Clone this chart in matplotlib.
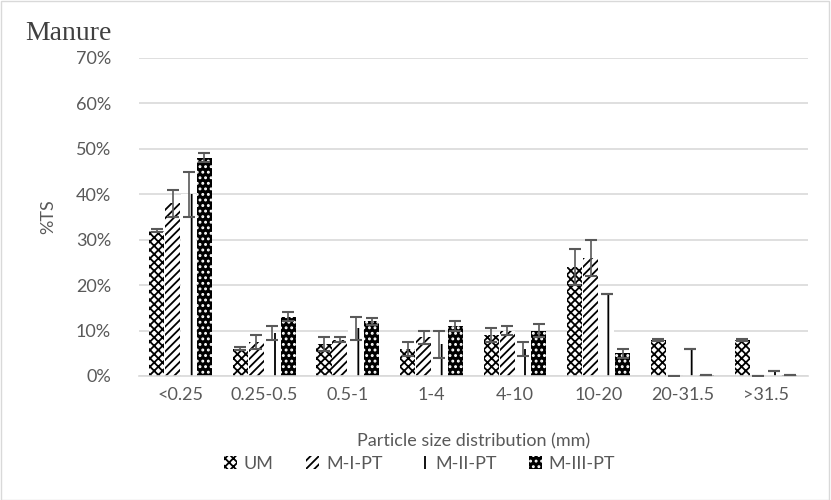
import matplotlib.pyplot as plt
import numpy as np

categories = ['<0.25', '0.25-0.5', '0.5-1', '1-4', '4-10', '10-20', '20-31.5', '>31.5']
series = ['UM', 'M-I-PT', 'M-II-PT', 'M-III-PT']

um = [32, 6, 7, 6, 9, 24, 8, 8]
um_err = [0.3, 0.3, 1.5, 1.5, 1.5, 4, 0.2, 0.2]
m1 = [38, 7.5, 8, 8.5, 10, 26, 0, 0]
m1_err = [3, 1.5, 0.5, 1.5, 1, 4, 0, 0]
m2 = [40, 9.5, 10.5, 7, 6, 18, 6, 1]
m2_err = [5, 1.5, 2.5, 3, 1.5, 0, 0, 0]
m3 = [48, 13, 12, 11, 10, 5, 0.3, 0.2]
m3_err = [1, 1, 0.7, 1, 1.5, 1, 0, 0]

values = [um, m1, m2, m3]
errors = [um_err, m1_err, m2_err, m3_err]
styles = [
    dict(facecolor='white', edgecolor='black', hatch='xxxx', linewidth=0),
    dict(facecolor='white', edgecolor='black', hatch='////', linewidth=0),
    dict(facecolor='white', edgecolor='black', hatch='|', linewidth=0),
    dict(facecolor='black', edgecolor='white', hatch='...', linewidth=0),
]

plt.rcParams['font.family'] = ['Lato', 'DejaVu Sans']
plt.rcParams['hatch.linewidth'] = 1.3

fig = plt.figure(figsize=(8.31, 5), dpi=100)
ax = fig.add_axes([0.167, 0.248, 0.805, 0.636])

x = np.arange(len(categories))
w = 0.18
for i, (name, vals, errs, st) in enumerate(zip(series, values, errors, styles)):
    pos = x + (i - 1.5) * (w + 0.01)
    ax.bar(pos, vals, w, label=name, zorder=2, **st)
    ax.errorbar(pos, vals, yerr=errs, fmt='none', ecolor='#595959',
                elinewidth=1.2, capsize=4, capthick=1.5, zorder=3)

ax.set_xlim(-0.5, len(categories) - 0.5)
ax.set_ylim(0, 70)
ax.set_yticks(np.arange(0, 71, 10))
ax.set_yticklabels([f'{v}%' for v in range(0, 71, 10)])
ax.set_xticks(x)
ax.set_xticklabels(categories)
ax.yaxis.grid(True, color='#d9d9d9', linewidth=1.2, zorder=0)
ax.set_axisbelow(True)
for s in ['top', 'right', 'left']:
    ax.spines[s].set_visible(False)
ax.spines['bottom'].set_color('#d9d9d9')
ax.spines['bottom'].set_linewidth(1.2)
ax.tick_params(length=0, labelsize=13, colors='#595959', pad=8)
ax.tick_params(axis='y', pad=20)

ax.set_xlabel('Particle size distribution (mm)', fontsize=13, color='#595959', labelpad=22)
ax.set_ylabel('%TS', fontsize=13, color='#595959', labelpad=14)

fig.text(0.03, 0.92, 'Manure', fontsize=20, family='Liberation Serif', color='#404040',
         va='baseline')

leg = fig.legend(loc='center', bbox_to_anchor=(0.505, 0.072), ncol=4, frameon=False,
                 fontsize=13, handlelength=0.7, handleheight=0.7, columnspacing=1.8,
                 handletextpad=0.4)
for t in leg.get_texts():
    t.set_color('#595959')

fig.patches.append(plt.Rectangle((0.001, 0.001), 0.997, 0.997, transform=fig.transFigure,
                                 fill=False, edgecolor='#d9d9d9', linewidth=1))

fig.savefig('out.png', dpi=100)
plt.close(fig)
